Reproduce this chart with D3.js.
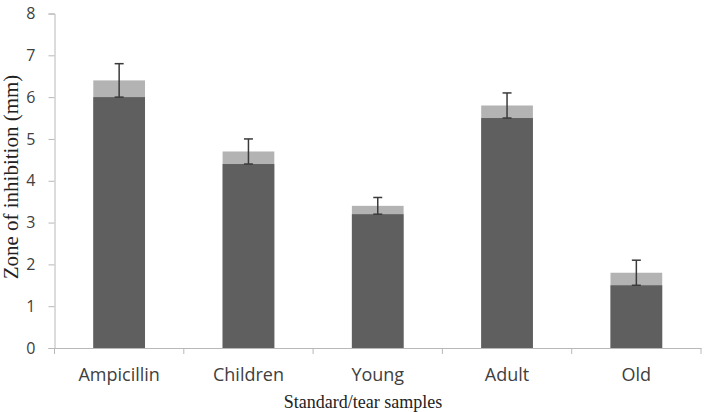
<!DOCTYPE html>
<html>
<head>
<meta charset="utf-8">
<script src="https://cdn.jsdelivr.net/npm/d3@7"></script>
<style>
  html, body { margin: 0; padding: 0; background: #fff; }
  svg { display: block; }
</style>
</head>
<body>
<svg id="chart" width="704" height="412"></svg>
<script>
const categories = ["Ampicillin", "Children", "Young", "Adult", "Old"];
const meanValues = [6.4, 4.7, 3.4, 5.8, 1.8];
const lowerValues = [6.0, 4.4, 3.2, 5.5, 1.5];
const errorValues = [0.4, 0.3, 0.2, 0.3, 0.3];
const yTicks = [0, 1, 2, 3, 4, 5, 6, 7, 8];
const yTitle = "Zone of inhibition (mm)";
const xTitle = "Standard/tear samples";

(function () {
const svg = d3.select("#chart");
const mLeft = 54.5, mRight = 701, mTop = 13.5, mBottom = 348;

const x = d3.scaleBand().domain(categories).range([mLeft, mRight]).padding(0);
const y = d3.scaleLinear().domain([0, 8]).range([mBottom, mTop]);
const axisColor = "#b8b8b8";

// y axis
const yAxis = svg.append("g")
  .attr("transform", `translate(${mLeft},0)`)
  .call(d3.axisLeft(y).tickValues(yTicks).tickSize(6).tickPadding(13).tickFormat(d3.format("d")));
yAxis.select(".domain").attr("stroke", axisColor);
yAxis.selectAll(".tick line").attr("stroke", axisColor);
yAxis.selectAll("text")
  .attr("font-family", "'Open Sans', sans-serif")
  .attr("font-size", 16)
  .attr("fill", "#404040");

// x axis
const xAxis = svg.append("g")
  .attr("transform", `translate(0,${mBottom})`)
  .call(d3.axisBottom(x).tickSize(0).tickPadding(20));
xAxis.select(".domain").attr("stroke", axisColor);
xAxis.selectAll("text")
  .attr("font-family", "'Open Sans', sans-serif")
  .attr("font-size", 18)
  .attr("fill", "#404040");
// boundary ticks
const bounds = categories.map(c => x(c)).concat([x(categories[categories.length - 1]) + x.bandwidth()]);
svg.append("g").selectAll("line").data(bounds).join("line")
  .attr("x1", d => d).attr("x2", d => d)
  .attr("y1", mBottom).attr("y2", mBottom + 6)
  .attr("stroke", axisColor);

const barW = x.bandwidth() * 0.4;
const cx = c => x(c) + x.bandwidth() / 2;

// light bars (mean)
svg.append("g").selectAll("rect").data(categories).join("rect")
  .attr("x", c => cx(c) - barW / 2)
  .attr("width", barW)
  .attr("y", (c, i) => y(meanValues[i]))
  .attr("height", (c, i) => y(0) - y(meanValues[i]))
  .attr("fill", "#b3b3b3");

// dark bars
svg.append("g").selectAll("rect").data(categories).join("rect")
  .attr("x", c => cx(c) - barW / 2)
  .attr("width", barW)
  .attr("y", (c, i) => y(lowerValues[i]))
  .attr("height", (c, i) => y(0) - y(lowerValues[i]))
  .attr("fill", "#5f5f5f");

// error bars
const eb = svg.append("g").attr("stroke", "#3a3a3a").attr("stroke-width", 1.5);
categories.forEach((c, i) => {
  const hi = y(meanValues[i] + errorValues[i]);
  const lo = y(meanValues[i] - errorValues[i]);
  eb.append("line").attr("x1", cx(c)).attr("x2", cx(c)).attr("y1", hi).attr("y2", lo);
  eb.append("line").attr("x1", cx(c) - 4.5).attr("x2", cx(c) + 4.5).attr("y1", hi).attr("y2", hi);
  eb.append("line").attr("x1", cx(c) - 4.5).attr("x2", cx(c) + 4.5).attr("y1", lo).attr("y2", lo);
});

// titles
svg.append("text")
  .attr("transform", "translate(18,177) rotate(-90)")
  .attr("text-anchor", "middle")
  .attr("font-family", "'Liberation Serif', 'Times New Roman', serif")
  .attr("font-size", 21)
  .attr("fill", "#222")
  .text(yTitle);

svg.append("text")
  .attr("x", 363).attr("y", 408)
  .attr("text-anchor", "middle")
  .attr("font-family", "'Liberation Serif', 'Times New Roman', serif")
  .attr("font-size", 18)
  .attr("fill", "#222")
  .text(xTitle);
})();
</script>
</body>
</html>
